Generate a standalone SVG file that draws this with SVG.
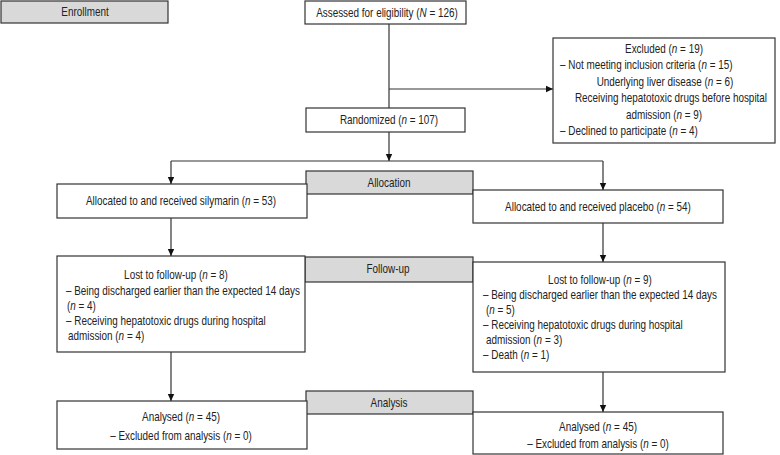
<svg xmlns="http://www.w3.org/2000/svg" width="780" height="455" viewBox="0 0 780 455">
<defs>
<marker id="ah" markerWidth="8" markerHeight="8" refX="7" refY="4" orient="auto" markerUnits="userSpaceOnUse">
<path d="M0,0.8 L7,4 L0,7.2 Z" fill="#111"/>
</marker>
<style>
text{font-family:"Liberation Sans",Arial,sans-serif;font-size:12px;fill:#222}
.i{font-style:italic}
.box{fill:#fff;stroke:#333;stroke-width:1.2}
.gray{fill:#d9d9d9;stroke:#333;stroke-width:1.2}
.c{text-anchor:middle}
.ln{stroke:#333;stroke-width:1.2;fill:none}
.ar{stroke:#333;stroke-width:1.2;fill:none;marker-end:url(#ah)}
</style>
</defs>
<rect width="780" height="455" fill="#fff"/>
<g id="enrollment"><rect class="gray" x="1" y="1" width="167" height="22"/><text class="c" transform="translate(85 16) scale(.825 1)">Enrollment</text></g>
<g id="allocation"><rect class="gray" x="306" y="171" width="167" height="23"/><text class="c" transform="translate(389 187) scale(.825 1)">Allocation</text></g>
<g id="followup"><rect class="gray" x="305" y="257" width="168" height="25"/><text class="c" transform="translate(388 273) scale(.825 1)">Follow-up</text></g>
<g id="analysis"><rect class="gray" x="306" y="391" width="167" height="23"/><text class="c" transform="translate(389 407) scale(.825 1)">Analysis</text></g>
<g id="assessed"><rect class="box" x="305" y="1" width="161" height="23"/><text class="c" transform="translate(387 17) scale(.825 1)">Assessed for eligibility (<tspan class="i">N</tspan> = 126)</text></g>
<g id="excluded"><rect class="box" x="553" y="38" width="222" height="105"/>
<text class="c" transform="translate(664 53) scale(.825 1)">Excluded (<tspan class="i">n</tspan> = 19)</text>
<text transform="translate(560 69) scale(.825 1)">– Not meeting inclusion criteria (<tspan class="i">n</tspan> = 15)</text>
<text class="c" transform="translate(665 86) scale(.825 1)">Underlying liver disease (<tspan class="i">n</tspan> = 6)</text>
<text class="c" transform="translate(671 102) scale(.825 1)">Receiving hepatotoxic drugs before hospital</text>
<text class="c" transform="translate(664 119) scale(.825 1)">admission (<tspan class="i">n</tspan> = 9)</text>
<text transform="translate(560 135) scale(.825 1)">– Declined to participate (<tspan class="i">n</tspan> = 4)</text>
</g>
<g id="randomized"><rect class="box" x="306" y="108" width="159" height="24"/><text class="c" transform="translate(389 124) scale(.825 1)">Randomized (<tspan class="i">n</tspan> = 107)</text></g>
<g id="silymarin"><rect class="box" x="57" y="184" width="250" height="34"/><text class="c" transform="translate(181 205) scale(.825 1)">Allocated to and received silymarin (<tspan class="i">n</tspan> = 53)</text></g>
<g id="placebo"><rect class="box" x="473" y="190" width="250" height="33"/><text class="c" transform="translate(598 211) scale(.825 1)">Allocated to and received placebo (<tspan class="i">n</tspan> = 54)</text></g>
<g id="lost-left"><rect class="box" x="57" y="256" width="248" height="96"/>
<text class="c" transform="translate(176 279) scale(.825 1)">Lost to follow-up (<tspan class="i">n</tspan> = 8)</text>
<text transform="translate(66 295) scale(.825 1)">– Being discharged earlier than the expected 14 days</text>
<text transform="translate(67 310) scale(.825 1)">(<tspan class="i">n</tspan> = 4)</text>
<text transform="translate(66 325) scale(.825 1)">– Receiving hepatotoxic drugs during hospital</text>
<text transform="translate(68 340) scale(.825 1)">admission (<tspan class="i">n</tspan> = 4)</text>
</g>
<g id="lost-right"><rect class="box" x="473" y="262" width="252" height="110"/>
<text class="c" transform="translate(600 284) scale(.825 1)">Lost to follow-up (<tspan class="i">n</tspan> = 9)</text>
<text transform="translate(483 299) scale(.825 1)">– Being discharged earlier than the expected 14 days</text>
<text transform="translate(486 314) scale(.825 1)">(<tspan class="i">n</tspan> = 5)</text>
<text transform="translate(483 329) scale(.825 1)">– Receiving hepatotoxic drugs during hospital</text>
<text transform="translate(486 344) scale(.825 1)">admission (<tspan class="i">n</tspan> = 3)</text>
<text transform="translate(483 359) scale(.825 1)">– Death (<tspan class="i">n</tspan> = 1)</text>
</g>
<g id="analysed-left"><rect class="box" x="57" y="401" width="250" height="48"/>
<text class="c" transform="translate(181 421) scale(.825 1)">Analysed (<tspan class="i">n</tspan> = 45)</text>
<text class="c" transform="translate(181 440) scale(.825 1)">– Excluded from analysis (<tspan class="i">n</tspan> = 0)</text>
</g>
<g id="analysed-right"><rect class="box" x="473" y="412" width="250" height="42"/>
<text class="c" transform="translate(598 431) scale(.825 1)">Analysed (<tspan class="i">n</tspan> = 45)</text>
<text class="c" transform="translate(598 448) scale(.825 1)">– Excluded from analysis (<tspan class="i">n</tspan> = 0)</text>
</g>
<g id="connectors">
<line class="ln" x1="389" y1="24" x2="389" y2="108"/>
<line class="ar" x1="389" y1="89" x2="553" y2="89"/>
<line class="ar" x1="389" y1="132" x2="389" y2="161"/>
<line class="ln" x1="171" y1="161" x2="603" y2="161"/>
<line class="ar" x1="171" y1="161" x2="171" y2="184"/>
<line class="ar" x1="603" y1="161" x2="603" y2="190"/>
<line class="ar" x1="171" y1="218" x2="171" y2="256"/>
<line class="ar" x1="603" y1="223" x2="603" y2="262"/>
<line class="ar" x1="171" y1="352" x2="171" y2="401"/>
<line class="ar" x1="603" y1="372" x2="603" y2="412"/>
</g>
</svg>
